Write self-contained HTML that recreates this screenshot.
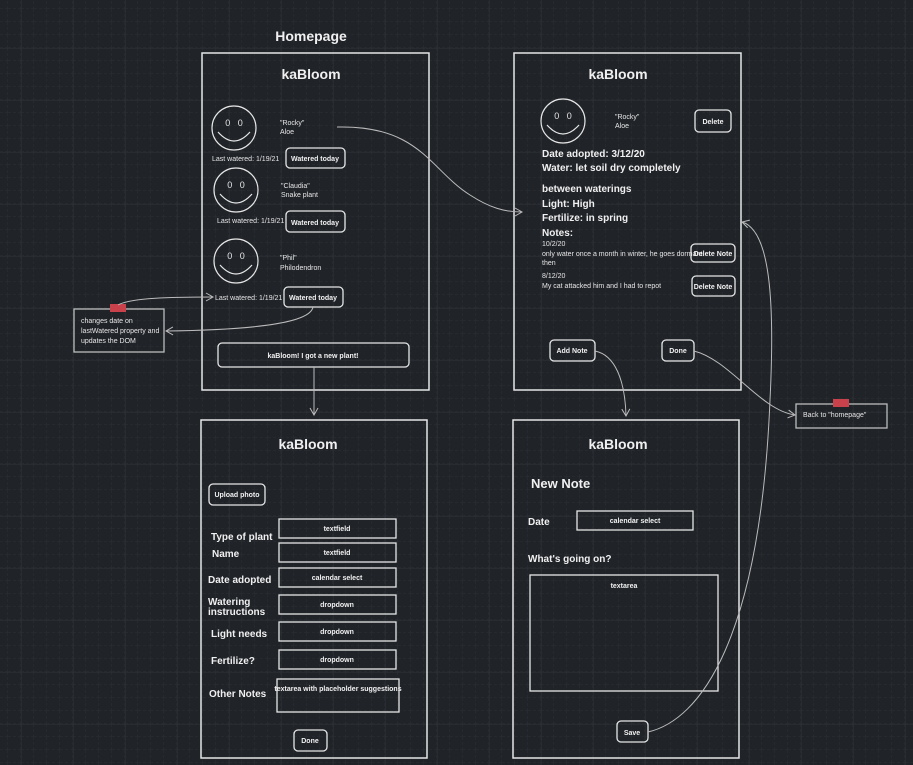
<!DOCTYPE html>
<html><head><meta charset="utf-8"><style>
html,body{margin:0;padding:0;background:#202328;}
svg{display:block;font-family:"Liberation Sans",Arial,sans-serif;}
</style></head><body>
<svg width="913" height="765" viewBox="0 0 913 765" xmlns="http://www.w3.org/2000/svg">
<defs>
<pattern id="g1" width="13" height="13" patternUnits="userSpaceOnUse" x="8" y="9"><path d="M13 0V13M0 13H13" stroke="#2b2f35" stroke-width="1" fill="none" stroke-dasharray="3 2"/></pattern>
<pattern id="g2" width="52" height="52" patternUnits="userSpaceOnUse" x="21" y="-4"><path d="M0 0V52M0 0H52" stroke="#30343a" stroke-width="1" fill="none"/></pattern>
<marker id="ar" markerWidth="10" markerHeight="10" refX="8" refY="5" orient="auto" markerUnits="userSpaceOnUse"><path d="M1 1L8 5L1 9" fill="none" stroke="#bbb" stroke-width="1"/></marker>
</defs>
<rect width="913" height="765" fill="#202328"/>
<rect width="913" height="765" fill="url(#g1)"/>
<rect width="913" height="765" fill="url(#g2)"/>

<g fill="none" stroke="#e6e6e6" stroke-width="1.5">
<rect x="202" y="53" width="227" height="337"/>
<rect x="514" y="53" width="227" height="337"/>
<rect x="201" y="420" width="226" height="338"/>
<rect x="513" y="420" width="226" height="338"/>
</g>
<g fill="#f0f0f0" font-weight="bold" font-size="14" text-anchor="middle">
<text x="311" y="41" font-size="14">Homepage</text>
<text x="311" y="79">kaBloom</text>
<text x="618" y="79">kaBloom</text>
<text x="308" y="449">kaBloom</text>
<text x="618" y="449">kaBloom</text>
</g>

<!-- smileys -->
<g fill="none" stroke="#e6e6e6" stroke-width="1.2">
<circle cx="234" cy="128" r="22"/><path d="M218 132Q234 150 250 132"/>
<circle cx="236" cy="190" r="22"/><path d="M220 194Q236 212 252 194"/>
<circle cx="236" cy="261" r="22"/><path d="M220 265Q236 283 252 265"/>
<circle cx="563" cy="121" r="22"/><path d="M547 125Q563 143 579 125"/>
</g>
<g fill="#e6e6e6" font-size="9" text-anchor="middle">
<text x="234" y="126">0&#160;&#160;&#160;0</text>
<text x="236" y="188">0&#160;&#160;&#160;0</text>
<text x="236" y="259">0&#160;&#160;&#160;0</text>
<text x="563" y="119">0&#160;&#160;&#160;0</text>
</g>
<g fill="#e6e6e6" font-size="7">
<text x="280" y="125">"Rocky"</text><text x="280" y="134">Aloe</text>
<text x="281" y="188">"Claudia"</text><text x="281" y="197">Snake plant</text>
<text x="280" y="260">"Phil"</text><text x="280" y="270">Philodendron</text>
<text x="212" y="161">Last watered: 1/19/21</text>
<text x="217" y="223">Last watered: 1/19/21</text>
<text x="215" y="300">Last watered: 1/19/21</text>
<text x="615" y="119">"Rocky"</text><text x="615" y="128">Aloe</text>
<text x="81" y="323">changes date on</text>
<text x="81" y="333">lastWatered property and</text>
<text x="81" y="343">updates the DOM</text>
<text x="803" y="417">Back to "homepage"</text>
<text x="542" y="246">10/2/20</text>
<text x="542" y="256">only water once a month in winter, he goes dormant</text>
<text x="542" y="265">then</text>
<text x="542" y="278">8/12/20</text>
<text x="542" y="288">My cat attacked him and I had to repot</text>
</g>

<!-- buttons -->
<g fill="none" stroke="#e6e6e6" stroke-width="1.3">
<rect x="286" y="148" width="59" height="20" rx="4"/>
<rect x="286" y="211" width="59" height="21" rx="4"/>
<rect x="284" y="287" width="59" height="20" rx="4"/>
<rect x="218" y="343" width="191" height="24" rx="4"/>
<rect x="695" y="110" width="36" height="22" rx="4"/>
<rect x="691" y="244" width="44" height="18" rx="4"/>
<rect x="692" y="276" width="43" height="20" rx="4"/>
<rect x="550" y="340" width="45" height="21" rx="4"/>
<rect x="662" y="340" width="32" height="21" rx="4"/>
<rect x="209" y="484" width="56" height="21" rx="4"/>
<rect x="294" y="730" width="33" height="21" rx="4"/>
<rect x="617" y="721" width="31" height="21" rx="4"/>
<rect x="74" y="309" width="90" height="43" stroke="#bbb"/>
<rect x="796" y="404" width="91" height="24" stroke="#bbb"/>
<rect x="279" y="519" width="117" height="19"/>
<rect x="279" y="543" width="117" height="19"/>
<rect x="279" y="568" width="117" height="19"/>
<rect x="279" y="595" width="117" height="19"/>
<rect x="279" y="622" width="117" height="19"/>
<rect x="279" y="650" width="117" height="19"/>
<rect x="277" y="679" width="122" height="33"/>
<rect x="577" y="511" width="116" height="19"/>
<rect x="530" y="575" width="188" height="116"/>
</g>
<rect x="110" y="304" width="16" height="8" fill="#c9414a"/>
<rect x="833" y="399" width="16" height="8" fill="#c9414a"/>

<g fill="#f0f0f0" font-size="7" font-weight="bold" text-anchor="middle">
<text x="315" y="161">Watered today</text>
<text x="315" y="225">Watered today</text>
<text x="313" y="300">Watered today</text>
<text x="313" y="358">kaBloom! I got a new plant!</text>
<text x="713" y="124">Delete</text>
<text x="713" y="256">Delete Note</text>
<text x="713" y="289">Delete Note</text>
<text x="572" y="353">Add Note</text>
<text x="678" y="353">Done</text>
<text x="237" y="497">Upload photo</text>
<text x="337" y="531">textfield</text>
<text x="337" y="555">textfield</text>
<text x="337" y="580">calendar select</text>
<text x="337" y="607">dropdown</text>
<text x="337" y="634">dropdown</text>
<text x="337" y="662">dropdown</text>
<text x="338" y="691">textarea with placeholder suggestions</text>
<text x="310" y="743">Done</text>
<text x="632" y="735">Save</text>
<text x="635" y="523">calendar select</text>
<text x="624" y="588">textarea</text>
</g>

<g fill="#f0f0f0" font-size="10" font-weight="bold">
<text x="542" y="157">Date adopted: 3/12/20</text>
<text x="542" y="171">Water: let soil dry completely</text>
<text x="542" y="192">between waterings</text>
<text x="542" y="207">Light: High</text>
<text x="542" y="221">Fertilize: in spring</text>
<text x="542" y="236">Notes:</text>
<text x="211" y="540">Type of plant</text>
<text x="212" y="557">Name</text>
<text x="208" y="583">Date adopted</text>
<text x="208" y="605">Watering</text>
<text x="208" y="615">instructions</text>
<text x="211" y="637">Light needs</text>
<text x="211" y="664">Fertilize?</text>
<text x="209" y="697">Other Notes</text>
<text x="528" y="525">Date</text>
<text x="528" y="562">What's going on?</text>
<text x="531" y="488" font-size="13">New Note</text>
</g>

<!-- connectors -->
<g fill="none" stroke="#bbb" stroke-width="1" marker-end="url(#ar)">
<path d="M337 127C420 125 430 170 470 195C490 208 505 212 522 212"/>
<path d="M118 305C130 298 170 297 213 297"/>
<path d="M313 307C310 325 240 330 166 331"/>
<path d="M314 367V415"/>
<path d="M595 351C615 355 625 380 626 416"/>
<path d="M694 351C730 360 760 410 795 415"/>
<path d="M648 732C700 720 760 640 770 400C775 300 770 230 742 222"/>
</g>
</svg>
</body></html>
